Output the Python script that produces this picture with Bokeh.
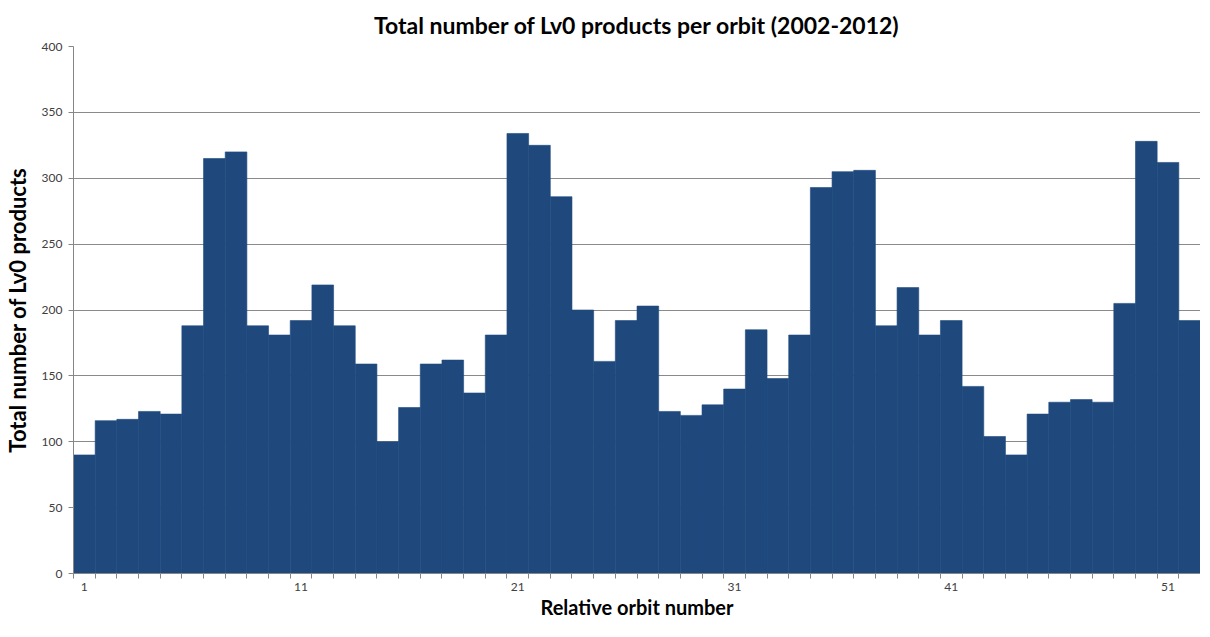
from bokeh.plotting import figure
from bokeh.models import ColumnDataSource, Range1d, FixedTicker
from bokeh.embed import file_html
from bokeh.resources import INLINE

orbits = list(range(1, 53))
products = [90, 116, 117, 123, 121, 188, 315, 320, 188, 181,
            192, 219, 188, 159, 100, 126, 159, 162, 137, 181,
            334, 325, 286, 200, 161, 192, 203, 123, 120, 128,
            140, 185, 148, 181, 293, 305, 306, 188, 217, 181,
            192, 142, 104, 90, 121, 130, 132, 130, 205, 328,
            312, 192]
x_label_ticks = [1, 11, 21, 31, 41, 51]
y_ticks = [0, 50, 100, 150, 200, 250, 300, 350, 400]

FONT = "Lato"
AXIS_COLOR = "#868686"
TEXT_COLOR = "#404040"
BAR_COLOR = "#1F497D"

source = ColumnDataSource(data=dict(orbit=orbits, products=products))

p = figure(width=1200, height=621, output_backend="svg", toolbar_location=None,
           x_range=Range1d(0.5, len(orbits) + 0.5), y_range=Range1d(0, 400),
           title="Total number of Lv0 products per orbit (2002-2012)",
           min_border_left=63, min_border_right=0, min_border_top=0, min_border_bottom=0)

p.vbar(x="orbit", top="products", width=1.0, source=source,
       fill_color=BAR_COLOR, line_color=BAR_COLOR, line_width=0.6)

p.title.align = "center"
p.title.text_font = FONT
p.title.text_font_style = "bold"
p.title.text_font_size = "23px"
p.title.text_color = "#000000"
p.title.standoff = 16

p.outline_line_color = None
p.background_fill_color = "white"
p.border_fill_color = "white"

p.xgrid.grid_line_color = None
p.ygrid.grid_line_color = "#8A8A8A"
p.ygrid.grid_line_width = 1

bounds = [i + 0.5 for i in range(0, len(orbits) + 1)]
p.xaxis.ticker = FixedTicker(ticks=x_label_ticks, minor_ticks=bounds)
p.xaxis.major_tick_out = 0
p.xaxis.major_tick_in = 0
p.xaxis.minor_tick_out = 5
p.xaxis.minor_tick_in = 0
p.xaxis.minor_tick_line_color = AXIS_COLOR
p.xaxis.axis_line_color = AXIS_COLOR
p.xaxis.major_label_standoff = 4
p.xaxis.axis_label = "Relative orbit number"
p.xaxis.axis_label_standoff = 1

p.yaxis.ticker = FixedTicker(ticks=y_ticks)
p.yaxis.major_tick_out = 5
p.yaxis.major_tick_in = 0
p.yaxis.minor_tick_out = 0
p.yaxis.minor_tick_in = 0
p.yaxis.major_tick_line_color = AXIS_COLOR
p.yaxis.axis_line_color = AXIS_COLOR
p.yaxis.major_label_standoff = 6
p.yaxis.axis_label = "Total number of Lv0 products"
p.yaxis.axis_label_standoff = 8

for ax in (p.xaxis, p.yaxis):
    ax.major_label_text_font = FONT
    ax.major_label_text_font_size = "12px"
    ax.major_label_text_color = TEXT_COLOR
    ax.axis_label_text_font = FONT
    ax.axis_label_text_font_style = "bold"
    ax.axis_label_text_color = "#000000"
p.xaxis.axis_label_text_font_size = "20px"
p.yaxis.axis_label_text_font_size = "22px"

open("out.html", "w").write(file_html(p, INLINE))
